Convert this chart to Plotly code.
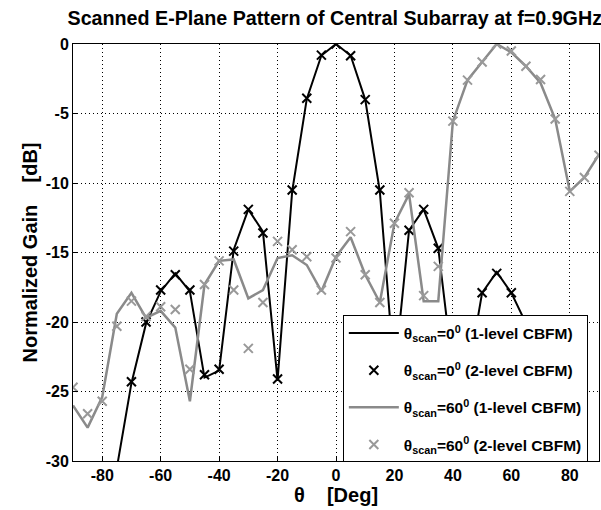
import plotly.graph_objects as go

theta = list(range(-90, 95, 5))

# scan 0 deg, 1-level CBFM (line)
g0_l1 = [-42, -38, -36, -30.5, -24.4, -20.1, -17.8, -16.5, -17.8, -24.0, -23.5, -14.8, -11.9, -13.5,
         -24.2, -10.6, -3.95, -0.83, 0.0, -0.83, -4.0, -10.6, -23.8, -13.4, -11.9, -14.7, -23.5, -24.0,
         -17.9, -16.4, -17.9, -20.1, -24.4, -30.5, -36, -38, -42]
# scan 0 deg, 2-level CBFM (markers)
g0_l2 = [-42, -38, -36, -30.6, -24.3, -20.0, -17.7, -16.6, -17.7, -23.8, -23.4, -14.9, -11.9, -13.6,
         -24.1, -10.5, -3.9, -0.8, 0.0, -0.85, -4.0, -10.5, -23.8, -13.4, -11.9, -14.7, -23.5, -24.0,
         -17.9, -16.5, -17.9, -20.1, -24.4, -30.5, -36, -38, -42]
# scan 60 deg, 1-level CBFM (line)
g60_l1 = [-26.0, -27.6, -25.4, -19.4, -17.9, -19.7, -19.2, -20.4, -25.7, -17.3, -15.6, -15.5, -18.3, -17.7,
          -15.4, -15.2, -15.9, -17.8, -15.3, -13.9, -16.6, -18.6, -12.9, -10.8, -18.5, -18.5, -5.55, -2.6,
          -1.3, 0.0, -0.6, -1.6, -2.8, -5.4, -10.6, -9.6, -7.95]
# scan 60 deg, 2-level CBFM (markers)
g60_l2 = [-24.7, -26.6, -25.7, -20.3, -18.5, -19.6, -18.9, -19.1, -23.4, -17.3, -15.6, -17.7, -21.9, -18.6,
          -14.2, -14.8, -15.3, -17.7, -15.4, -13.5, -16.6, -18.6, -12.9, -10.7, -18.1, -16.0, -5.55, -2.6,
          -1.3, 0.0, -0.5, -1.6, -2.55, -5.4, -10.6, -9.6, -8.0]

names = ["θ<sub>scan</sub>=0<sup>0</sup> (1-level CBFM)",
         "θ<sub>scan</sub>=0<sup>0</sup> (2-level CBFM)",
         "θ<sub>scan</sub>=60<sup>0</sup> (1-level CBFM)",
         "θ<sub>scan</sub>=60<sup>0</sup> (2-level CBFM)"]

xticks = [-80, -60, -40, -20, 0, 20, 40, 60, 80]
yticks = [0, -5, -10, -15, -20, -25, -30]

black = "#000000"
gray = "#8a8a8a"
gray_mk = "#999999"

fig = go.Figure()
fig.add_trace(go.Scatter(x=theta, y=g0_l1, mode="lines", name=names[0], legendgroup="a",
                         line=dict(color=black, width=2)))
fig.add_trace(go.Scatter(x=theta, y=g0_l2, mode="markers", name=names[1], legendgroup="b",
                         marker=dict(symbol="x-thin", size=9, line=dict(color=black, width=2))))
fig.add_trace(go.Scatter(x=theta, y=g60_l1, mode="lines", name=names[2], legendgroup="c",
                         line=dict(color=gray, width=2.5)))
fig.add_trace(go.Scatter(x=theta, y=g60_l2, mode="markers", name=names[3], legendgroup="d",
                         marker=dict(symbol="x-thin", size=9, line=dict(color=gray_mk, width=2))))

axis_common = dict(showline=True, linecolor="black", linewidth=1, mirror=True,
                   showgrid=True, gridcolor="black", griddash="1px,3px", gridwidth=1,
                   ticks="inside", ticklen=5, tickcolor="black", zeroline=False,
                   tickfont=dict(size=16, color="black"))

fig.update_layout(
    width=601, height=510,
    margin=dict(l=73, r=2, t=44, b=49),
    paper_bgcolor="white", plot_bgcolor="white",
    font=dict(family="Liberation Sans, Arial, sans-serif", color="black", weight="bold"),
    title=dict(text="Scanned E-Plane Pattern of Central Subarray at f=0.9GHz",
               x=0.557, xanchor="center", y=0.965, yanchor="middle", yref="container",
               font=dict(size=19.7, color="black", weight="bold")),
    xaxis=dict(range=[-90, 90], tickvals=xticks, ticktext=[str(v) for v in xticks],
               title=dict(text="θ\u00a0\u00a0\u00a0\u00a0[Deg]", font=dict(size=20), standoff=1), **axis_common),
    yaxis=dict(range=[-30, 0], tickvals=yticks, ticktext=[str(v) for v in yticks],
               title=dict(text="Normalized Gain\u00a0\u00a0\u00a0\u00a0[dB]", font=dict(size=20), standoff=2),
               **axis_common),
    legend=dict(x=0.513, y=0.349, xanchor="left", yanchor="top",
                bgcolor="white", bordercolor="black", borderwidth=1,
                font=dict(size=15.5, color="black", weight="bold"),
                itemwidth=50, tracegroupgap=14),
    showlegend=True,
)

fig.write_html("out.html")
